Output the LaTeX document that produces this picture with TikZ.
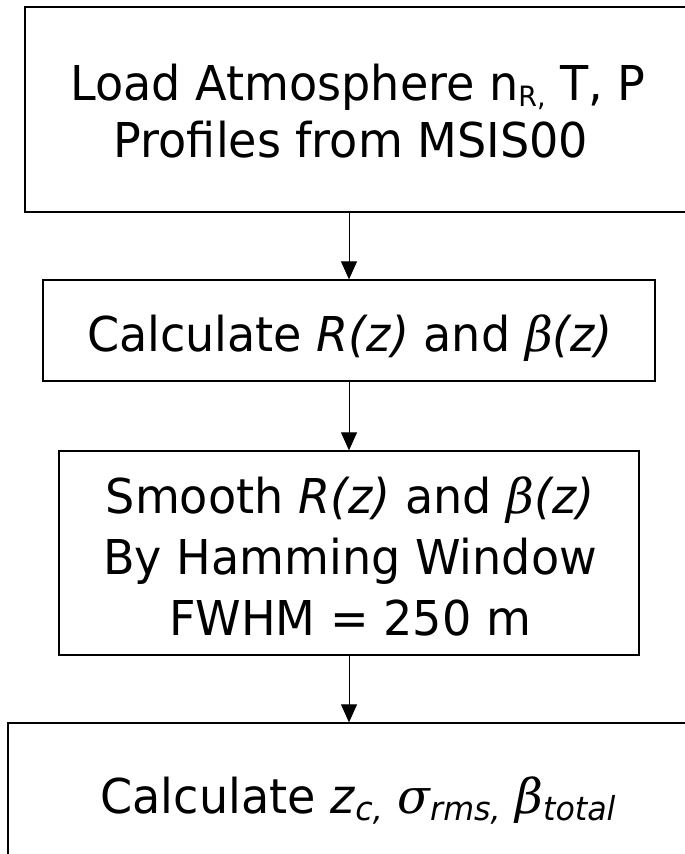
\documentclass[tikz,border=0pt]{standalone}
\usepackage{fontspec}
\setmainfont{DejaVu Sans}[FakeStretch=0.96]
\newfontfamily\greekfont{DejaVu Serif}
\usetikzlibrary{arrows.meta}
\newcommand{\flowfont}{\fontsize{48}{60}\selectfont}
\newcommand{\gb}{{\greekfont\itshape β}}
\newcommand{\gs}{{\greekfont\itshape σ}}
% lowered small index, upright or italic
\newcommand{\lowidx}[1]{\raisebox{-6pt}{\fontsize{28}{28}\selectfont #1}}
\newcommand{\lowitidx}[1]{\raisebox{-7pt}{\fontsize{33}{33}\selectfont\itshape #1}}
\tikzset{
  stepbox/.style={draw, line width=1.3pt, inner sep=0pt},
  linetext/.style={anchor=base, inner sep=0pt, font=\flowfont},
  flowarrow/.style={-{Triangle[length=18pt,width=16pt]}, line width=1pt},
}
\begin{document}
\begin{tikzpicture}[x=1pt,y=-1pt]
\useasboundingbox (0,0) rectangle (685,854);
% boxes of the flow
\node[stepbox, minimum width=666pt, minimum height=205pt] (b1) at (358,109.5) {};
\node[stepbox, minimum width=612pt, minimum height=101pt] (b2) at (349,330.5) {};
\node[stepbox, minimum width=580pt, minimum height=204pt] (b3) at (349,553) {};
\node[stepbox, minimum width=682pt, minimum height=180pt] (b4) at (349,813) {};
% texts
\node[linetext] (t1a) at (358,100) {Load Atmosphere n\lowidx{R,} T, P};
\node[linetext] (t1b) at (351,157) {Profiles from MSIS00};
\node[linetext] (t2) at (350,351) {Calculate \textit{R(z)} and \gb\textit{(z)}};
\node[linetext] (t3a) at (350,513) {Smooth \textit{R(z)} and \gb\textit{(z)}};
\node[linetext] (t3b) at (350,574) {By Hamming Window};
\node[linetext] (t3c) at (350,635) {FWHM = 250 m};
\node[linetext] (t4) at (358,813) {Calculate \textit{z}\lowitidx{c,} \gs\lowitidx{rms,} \gb\lowitidx{total}};
% connectors
\draw[flowarrow] (b1.south -| b2.north) -- (b2.north);
\draw[flowarrow] (b2.south) -- (b3.north);
\draw[flowarrow] (b3.south) -- (b4.north);
\end{tikzpicture}
\end{document}
